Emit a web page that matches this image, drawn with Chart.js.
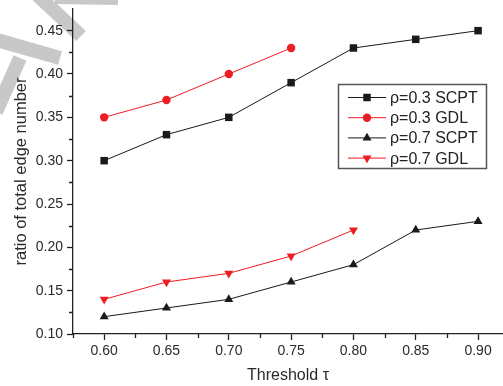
<!DOCTYPE html>
<html>
<head>
<meta charset="utf-8">
<script src="https://cdn.jsdelivr.net/npm/chart.js@4"></script>
<style>
    html, body { margin: 0; padding: 0; background: #fff; }
    #wrap { width: 503px; height: 386px; position: relative; }
</style>
</head>
<body>
<div id="wrap"><canvas id="edgeChart"></canvas></div>
<script>
// threshold values on the x axis
const thresholds = [0.60, 0.65, 0.70, 0.75, 0.80, 0.85, 0.90];

// ratio of total edge number per method
const scpt03 = [0.30, 0.33, 0.35, 0.39, 0.43, 0.44, 0.45];
const gdl03 = [0.35, 0.37, 0.40, 0.43];
const scpt07 = [0.12, 0.13, 0.14, 0.16, 0.18, 0.22, 0.23];
const gdl07 = [0.14, 0.16, 0.17, 0.19, 0.22];

const seriesLabels = ['ρ=0.3 SCPT', 'ρ=0.3 GDL', 'ρ=0.7 SCPT', 'ρ=0.7 GDL'];

const BLACK = '#1a1a1a';
const RED = '#ee1c24';
const FONT = '"Liberation Sans", Arial, sans-serif';

function toPoints(values) {
    return values.map((v, i) => ({ x: thresholds[i], y: v }));
}

function isMajor(v) {
    const q = v / 0.05;
    return Math.abs(q - Math.round(q)) < 1e-6;
}

// ticks every 0.025 between first and last, labels only on the 0.05 ones
function stepTicks(first, last) {
    return scale => {
        const out = [];
        const n = Math.round((last - first) / 0.025);
        for (let i = 0; i <= n; i++) {
            out.push({ value: +(first + i * 0.025).toFixed(3) });
        }
        scale.ticks = out;
    };
}

// grey watermark strokes in the upper left corner
const watermark = {
    id: 'watermark',
    beforeDraw(chart) {
        const ctx = chart.ctx;
        ctx.save();
        ctx.fillStyle = '#fff';
        ctx.fillRect(0, 0, chart.width, chart.height);
        ctx.strokeStyle = '#c8c8c8';
        ctx.lineCap = 'butt';
        ctx.lineWidth = 14;
        ctx.beginPath();
        ctx.moveTo(32, -10); ctx.lineTo(81, 36);
        ctx.moveTo(-10, 38); ctx.lineTo(60, 58);
        ctx.moveTo(-4, 112); ctx.lineTo(20, 58);
        ctx.stroke();
        ctx.lineWidth = 8;
        ctx.beginPath();
        ctx.moveTo(55, 0); ctx.lineTo(118, 1);
        ctx.stroke();
        ctx.restore();
    }
};

// short minor ticks between the labelled ones
const minorTicks = {
    id: 'minorTicks',
    afterDraw(chart) {
        const ctx = chart.ctx;
        const xs = chart.scales.x, ys = chart.scales.y;
        ctx.save();
        ctx.strokeStyle = '#222';
        ctx.lineWidth = 1.3;
        ctx.beginPath();
        xs.ticks.forEach(t => {
            if (isMajor(t.value)) return;
            const px = Math.round(xs.getPixelForValue(t.value)) + 0.5;
            ctx.moveTo(px, xs.top);
            ctx.lineTo(px, xs.top + 4);
        });
        ys.ticks.forEach(t => {
            if (isMajor(t.value)) return;
            const py = Math.round(ys.getPixelForValue(t.value)) + 0.5;
            ctx.moveTo(ys.right, py);
            ctx.lineTo(ys.right - 4, py);
        });
        ctx.stroke();
        ctx.restore();
    }
};

function drawMarker(ctx, ds, x, y) {
    const opts = {
        pointStyle: ds.pointStyle,
        radius: ds.pointRadius,
        rotation: ds.pointRotation || 0,
        borderWidth: 0
    };
    ctx.fillStyle = ds.pointBackgroundColor;
    ctx.strokeStyle = ds.pointBackgroundColor;
    Chart.helpers.drawPoint(ctx, opts, x, y);
}

// boxed legend inside the plot
const boxLegend = {
    id: 'boxLegend',
    afterDatasetsDraw(chart) {
        const ctx = chart.ctx;
        const left = 338.5, top = 84.5, w = 148, h = 84;
        ctx.save();
        ctx.fillStyle = '#fff';
        ctx.fillRect(left, top, w, h);
        ctx.strokeStyle = '#555';
        ctx.lineWidth = 1.5;
        ctx.strokeRect(left, top, w, h);
        ctx.font = '16px ' + FONT;
        ctx.textBaseline = 'middle';
        chart.data.datasets.forEach((ds, i) => {
            const y = 97.5 + i * 20.2;
            ctx.strokeStyle = ds.borderColor;
            ctx.lineWidth = 1;
            ctx.beginPath();
            ctx.moveTo(348, y);
            ctx.lineTo(386, y);
            ctx.stroke();
            drawMarker(ctx, ds, 367, y);
            ctx.fillStyle = '#222';
            ctx.fillText(ds.label, 390, y + 1);
        });
        ctx.restore();
    }
};

function makeDataset(label, values, color, style, radius, rotation) {
    return {
        label: label,
        data: toPoints(values),
        borderColor: color,
        backgroundColor: color,
        pointBackgroundColor: color,
        pointBorderColor: color,
        pointBorderWidth: 0,
        borderWidth: 1,
        pointStyle: style,
        pointRadius: radius,
        pointRotation: rotation,
        tension: 0
    };
}

function createEdgeChart() {
    const canvas = document.getElementById('edgeChart').getContext('2d');

    new Chart(canvas, {
        type: 'line',
        data: {
            datasets: [
                makeDataset(seriesLabels[0], scpt03, BLACK, 'rect', 5.3, 0),
                makeDataset(seriesLabels[1], gdl03, RED, 'circle', 4.2, 0),
                makeDataset(seriesLabels[2], scpt07, BLACK, 'triangle', 5.2, 0),
                makeDataset(seriesLabels[3], gdl07, RED, 'triangle', 5.2, 180)
            ]
        },
        options: {
            responsive: true,
            maintainAspectRatio: false,
            animation: false,
            layout: { autoPadding: false, padding: { top: 9, right: 0, left: 0, bottom: 0 } },
            plugins: {
                legend: { display: false },
                tooltip: { enabled: false }
            },
            scales: {
                x: {
                    type: 'linear',
                    min: 0.575,
                    max: 0.92,
                    afterBuildTicks: stepTicks(0.575, 0.90),
                    afterFit: s => {
                        s.height = 52;
                        s.paddingLeft = 0;
                        s.paddingRight = 0;
                    },
                    border: { color: '#222', width: 1.3 },
                    grid: {
                        drawOnChartArea: false,
                        tickLength: 6,
                        tickWidth: 1.3,
                        tickColor: c => isMajor(c.tick.value) ? '#222' : 'rgba(0,0,0,0)'
                    },
                    ticks: {
                        autoSkip: false,
                        maxRotation: 0,
                        padding: 3,
                        color: '#2a2a2a',
                        font: { family: FONT, size: 14 },
                        callback: v => isMajor(v) ? v.toFixed(2) : ''
                    },
                    title: {
                        display: true,
                        text: 'Threshold τ',
                        color: '#2a2a2a',
                        font: { family: FONT, size: 16 },
                        padding: { top: 0, bottom: 1 }
                    }
                },
                y: {
                    min: 0.10,
                    max: 0.475,
                    afterBuildTicks: stepTicks(0.10, 0.45),
                    afterFit: s => {
                        s.width = 73;
                        s.paddingTop = 0;
                        s.paddingBottom = 0;
                    },
                    border: { color: '#222', width: 1.3 },
                    grid: {
                        drawOnChartArea: false,
                        tickLength: 6,
                        tickWidth: 1.3,
                        tickColor: c => isMajor(c.tick.value) ? '#222' : 'rgba(0,0,0,0)'
                    },
                    ticks: {
                        autoSkip: false,
                        padding: 4,
                        color: '#2a2a2a',
                        font: { family: FONT, size: 14 },
                        callback: v => isMajor(v) ? v.toFixed(2) : ''
                    },
                    title: {
                        display: true,
                        text: 'ratio of total edge number',
                        color: '#2a2a2a',
                        font: { family: FONT, size: 16.5 },
                        padding: { top: 12, bottom: 0 }
                    }
                }
            }
        },
        plugins: [watermark, minorTicks, boxLegend]
    });
}

createEdgeChart();
</script>
</body>
</html>
